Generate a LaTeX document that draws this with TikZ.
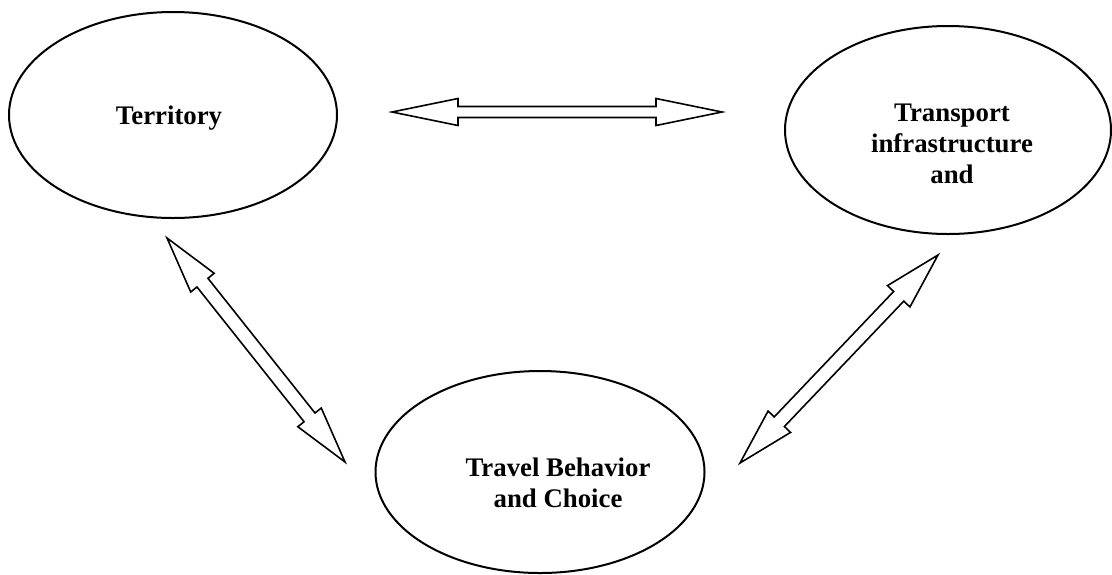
\documentclass[tikz,border=0pt]{standalone}
\usepackage{fontspec}
\setmainfont{Liberation Serif}
\usetikzlibrary{shapes.geometric,calc}

\tikzset{
  bubble/.style={ellipse, draw, line width=1pt, inner sep=0pt, outer sep=0pt},
  caption/.style={font=\fontsize{13.4}{15.5}\selectfont\bfseries, align=center, inner sep=0pt},
  arrowline/.style={draw, line width=0.8pt, line join=miter, fill=white},
}

% hollow double-headed block arrow between two named points
% #1 name, #2 start, #3 end, #4 head length, #5 head half width, #6 shaft half width
\newcommand\blockarrow[6]{%
  \coordinate (#1-p) at ($(#2)!#4!(#3)$);
  \coordinate (#1-q) at ($(#3)!#4!(#2)$);
  \draw[arrowline] (#2) -- ($(#1-p)!#5!90:(#3)$) -- ($(#1-p)!#6!90:(#3)$)
    -- ($(#1-q)!#6!-90:(#2)$) -- ($(#1-q)!#5!-90:(#2)$) -- (#3)
    -- ($(#1-q)!#5!90:(#2)$) -- ($(#1-q)!#6!90:(#2)$)
    -- ($(#1-p)!#6!-90:(#3)$) -- ($(#1-p)!#5!-90:(#3)$) -- cycle;}

\begin{document}
\begin{tikzpicture}[x=0.5pt, y=-0.5pt]
  \useasboundingbox (0,0) rectangle (1112,574);

  % the three ellipses
  \node[bubble, minimum width=164pt, minimum height=103pt] (terr) at (173,115) {};
  \node[bubble, minimum width=163pt, minimum height=104pt] (trans) at (948,130) {};
  \node[bubble, minimum width=164.5pt, minimum height=101pt] (travel) at (540,472) {};

  % their labels
  \node[caption] (terrtext) at (169,118.3) {Territory};
  \node[caption] (transtext) at (952,144) {Transport\\infrastructure\\and};
  \node[caption] (traveltext) at (558,482.7) {Travel Behavior\\and Choice};

  % free ends of the block arrows
  \coordinate (h1) at (392,112);
  \coordinate (h2) at (722,112);
  \coordinate (l1) at (167,238);
  \coordinate (l2) at (345,462);
  \coordinate (r1) at (938,255);
  \coordinate (r2) at (740,463);

  \blockarrow{ha}{h1}{h2}{33pt}{6.75pt}{2.75pt}
  \blockarrow{la}{l1}{l2}{28.5pt}{7.5pt}{3.5pt}
  \blockarrow{ra}{r1}{r2}{28.5pt}{7.75pt}{3.5pt}
\end{tikzpicture}
\end{document}
